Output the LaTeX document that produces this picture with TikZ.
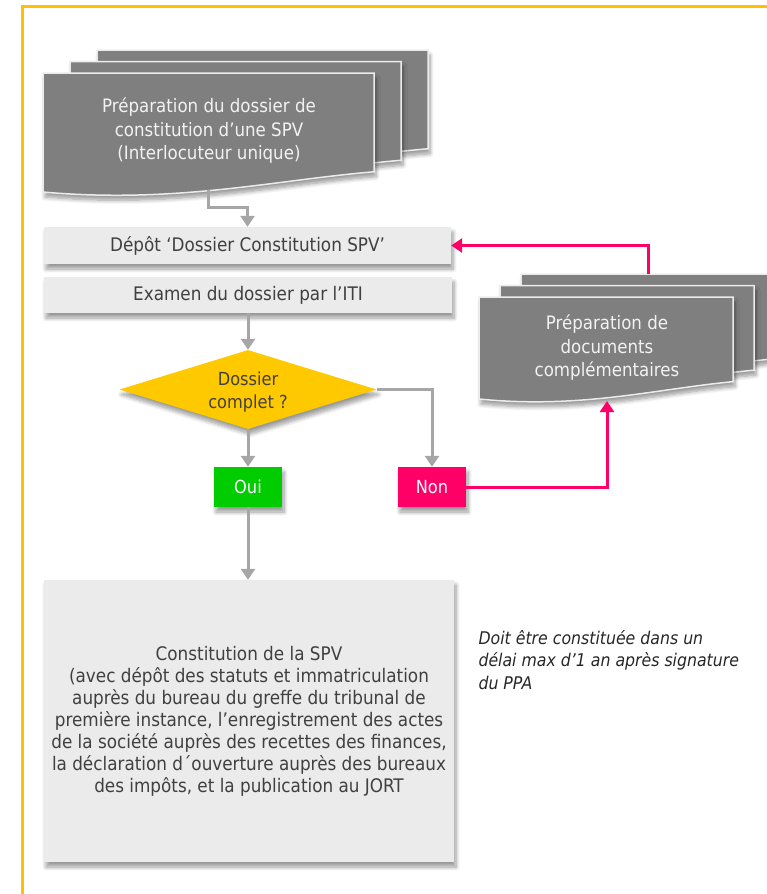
\documentclass[tikz,border=0pt]{standalone}
\usepackage{fontspec}
\setmainfont{DejaVu Sans Condensed}
\usetikzlibrary{shapes.geometric,arrows.meta,shadows.blur}

\definecolor{framecol}{HTML}{FFC000}
\definecolor{docgray}{HTML}{7F7F7F}
\definecolor{boxgray}{HTML}{EBEBEB}
\definecolor{linegray}{HTML}{A6A6A6}
\definecolor{diamyel}{HTML}{FFC900}
\definecolor{ouigreen}{HTML}{00CC00}
\definecolor{nonpink}{HTML}{FF0066}
\definecolor{textgray}{HTML}{404040}

\tikzset{
  softshadow/.style={blur shadow={shadow xshift=2pt, shadow yshift=-5pt, shadow opacity=40, shadow blur steps=8, shadow blur radius=4pt}},
  docpage/.style={fill=docgray, draw=white!92!black, line width=1.5pt, softshadow},
  doctext/.style={text=white!95!black, align=center, font=\fontsize{18.5}{23.5}\selectfont},
  greybox/.style={fill=boxgray, text=textgray, inner sep=0pt, align=center, font=\fontsize{18.7}{22}\selectfont, softshadow},
  decision/.style={diamond, fill=diamyel, text=textgray, shape aspect=3.25, inner sep=0pt, minimum width=257pt, minimum height=79pt, align=center, font=\fontsize{18}{22.5}\selectfont, softshadow},
  answer/.style={text=white, minimum width=68pt, minimum height=40pt, inner sep=0pt, font=\fontsize{18}{22}\selectfont, softshadow},
  flow/.style={draw=linegray, line width=3pt, -{Triangle[width=14pt,length=11pt]}},
  backflow/.style={draw=nonpink, line width=3pt, -{Triangle[width=14pt,length=11pt]}}
}

% top-left x, top-left y, width, height
\newcommand{\docpage}[4]{%
  \path[docpage] (#1,#2) -- (#1+#3,#2) -- (#1+#3,#2+0.83*#4)
    .. controls (#1+0.7*#3,#2+0.9*#4) and (#1+0.4*#3,#2+1.1*#4) .. (#1,#2+#4) -- cycle;}

\begin{document}
\begin{tikzpicture}[x=1pt,y=-1pt]
\useasboundingbox (0,0) rectangle (767,894);
\draw[framecol, line width=3pt] (22,894) -- (22,6) -- (767,6);

\docpage{97}{50}{331}{119}
\docpage{70}{61.5}{331}{119}
\docpage{43}{73}{331}{119}
\node[doctext] (prep) at (209,131) {Préparation du dossier de\\constitution d’une SPV\\(Interlocuteur unique)};
\coordinate (prepout) at (208,190);

\docpage{521}{274}{254}{102}
\docpage{500}{285.5}{254}{102}
\docpage{479}{297}{254}{102}
\node[doctext] (compl) at (607,348) {Préparation de\\documents\\complémentaires};
\coordinate (complin) at (607,401);
\coordinate (complout) at (648,274);

\node[greybox, minimum width=407pt, minimum height=37pt] (depot) at (247.5,245.5) {Dépôt ‘Dossier Constitution SPV’};
\node[greybox, minimum width=408pt, minimum height=36pt] (examen) at (248,295) {Examen du dossier par l’ITI};
\node[decision] (complet) at (248,389.5) {\raisebox{-3pt}[\height][\depth]{\begin{tabular}{@{}c@{}}Dossier\\complet ?\end{tabular}}};
\node[answer, fill=ouigreen] (oui) at (248,487) {Oui};
\node[answer, fill=nonpink] (non) at (432,487) {Non};
\node[greybox, minimum width=410pt, minimum height=282pt] (spv) at (249,721) {Constitution de la SPV\\
(avec dépôt des statuts et immatriculation\\
auprès du bureau du greffe du tribunal de\\
première instance, l’enregistrement des actes\\
de la société auprès des recettes des finances,\\
la déclaration d´ouverture auprès des bureaux\\
des impôts, et la publication au JORT};
\node[anchor=west, align=left, text=black!85, font=\fontsize{17.5}{22.5}\selectfont\itshape] (delai) at (475,660) {Doit être constituée dans un\\délai max d’1 an après signature\\du PPA};

\draw[flow] (prepout) -- ++(0,17) -| (depot.north);
\draw[flow] (examen.south) -- (complet.north);
\draw[flow] (complet.south) -- (oui.north);
\draw[flow] (complet.east) -| (non.north);
\draw[flow] (oui.south) -- (oui.south |- spv.north);
\draw[backflow] (non.east) -| (complin);
\draw[backflow] (complout) |- (depot.east);
\end{tikzpicture}
\end{document}
